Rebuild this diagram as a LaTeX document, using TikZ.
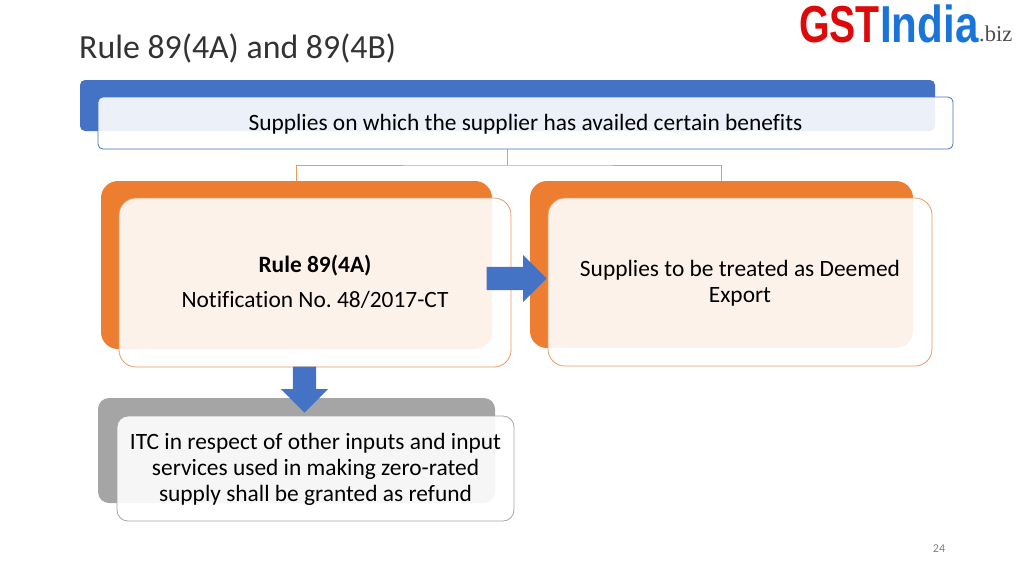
\documentclass[tikz,border=0pt]{standalone}
\usepackage{fontspec}
\setmainfont[Ligatures={NoCommon}]{Carlito}
\newfontfamily\logofont{Liberation Sans}
\newfontfamily\logoserif{Liberation Serif}
\usetikzlibrary{shapes.arrows}
\definecolor{cblue}{HTML}{4472C4}
\definecolor{corange}{HTML}{ED7D31}
\definecolor{cgrey}{HTML}{A5A5A5}
\definecolor{cline}{HTML}{EE9860}
\definecolor{logored}{HTML}{DC0A0A}
\definecolor{logoblue}{HTML}{1B74D8}
\tikzset{
  x=1pt,y=-1pt,
  backbox/.style={rectangle,inner sep=0pt,rounded corners=#1},
  frontbox/.style={rectangle,inner sep=0pt,fill=white,fill opacity=.9,line width=.8pt},
  boxtext/.style={inner sep=0pt,align=center,font=\fontsize{23.4}{26}\selectfont},
  blockarrow/.style={single arrow,fill=cblue,inner sep=0pt,text height=23pt,text depth=0pt,
     single arrow head extend=12pt,single arrow tip angle=90,anchor=tip},
  tree/.style={draw=cline,line width=1pt},
  logo/.style={inner sep=0pt,anchor=base west}
}
\begin{document}
\frenchspacing
\begin{tikzpicture}
\useasboundingbox (0,0) rectangle (1024,576);
\node[inner sep=0pt,anchor=base west,font=\fontsize{33.8}{36}\selectfont,text=black!80] (title) at (79,58) {Rule 89(4A) and 89(4B)};
% logo
\node[logo,text=logored] (g) at (799,42) {\scalebox{.755}[1]{\logofont\bfseries\fontsize{52}{52}\selectfont GST}};
\node[logo,text=logoblue] (i) at (880,42) {\scalebox{.81}[1]{\logofont\bfseries\fontsize{52}{52}\selectfont India}};
\node[logo,text=black!70] (b) at (979,41) {\logoserif\fontsize{22.5}{23}\selectfont .biz};
% back boxes
\node[backbox=5pt,fill=cblue,minimum width=855pt,minimum height=51pt] (topback) at (507.5,105.5) {};
\node[backbox=17pt,fill=corange,minimum width=391pt,minimum height=168pt] (leftback) at (296.5,265) {};
\node[backbox=17pt,fill=corange,minimum width=383pt,minimum height=167pt] (rightback) at (721.5,264.5) {};
\node[backbox=11pt,fill=cgrey,minimum width=397pt,minimum height=105pt] (greyback) at (296.5,450.5) {};
% connectors
\coordinate (bus) at (507,165);
\coordinate (busTop) at (507,149);
\draw[tree] (busTop) -- (bus);
\draw[tree] (leftback.north) |- (bus) -| (rightback.north);
% front boxes
\node[frontbox,draw=cblue,rounded corners=5pt,minimum width=855pt,minimum height=52pt] (top) at (525.5,123) {};
\node[frontbox,draw=cline,rounded corners=17pt,minimum width=392pt,minimum height=169pt] (left) at (315,282.5) {};
\node[frontbox,draw=cline,rounded corners=17pt,minimum width=384pt,minimum height=168pt] (right) at (740,282) {};
\node[frontbox,draw=cgrey,rounded corners=11pt,minimum width=397pt,minimum height=105pt] (grey) at (315.5,468.5) {};
% texts
\node[boxtext] (toptext) at (525.5,124) {Supplies on which the supplier has availed certain benefits};
\node[boxtext] (lefttext) at (315,281.5) {\textbf{Rule 89(4A)}\\[9pt]Notification No. 48/2017-CT};
\node[boxtext] (righttext) at (740,283) {Supplies to be treated as Deemed\\Export};
\node[boxtext] (greytext) at (315.5,469.5) {ITC in respect of other inputs and input\\services used in making zero-rated\\supply shall be granted as refund};
% block arrows
\node[blockarrow,minimum height=60pt] (arrowr) at (547,278.5) {};
\node[blockarrow,minimum height=46pt,rotate=270] (arrowd) at (304.5,413) {};
% page number
\node[inner sep=0pt,font=\fontsize{12}{14}\selectfont,text=black!50] (page) at (939,549) {24};
\end{tikzpicture}
\end{document}
